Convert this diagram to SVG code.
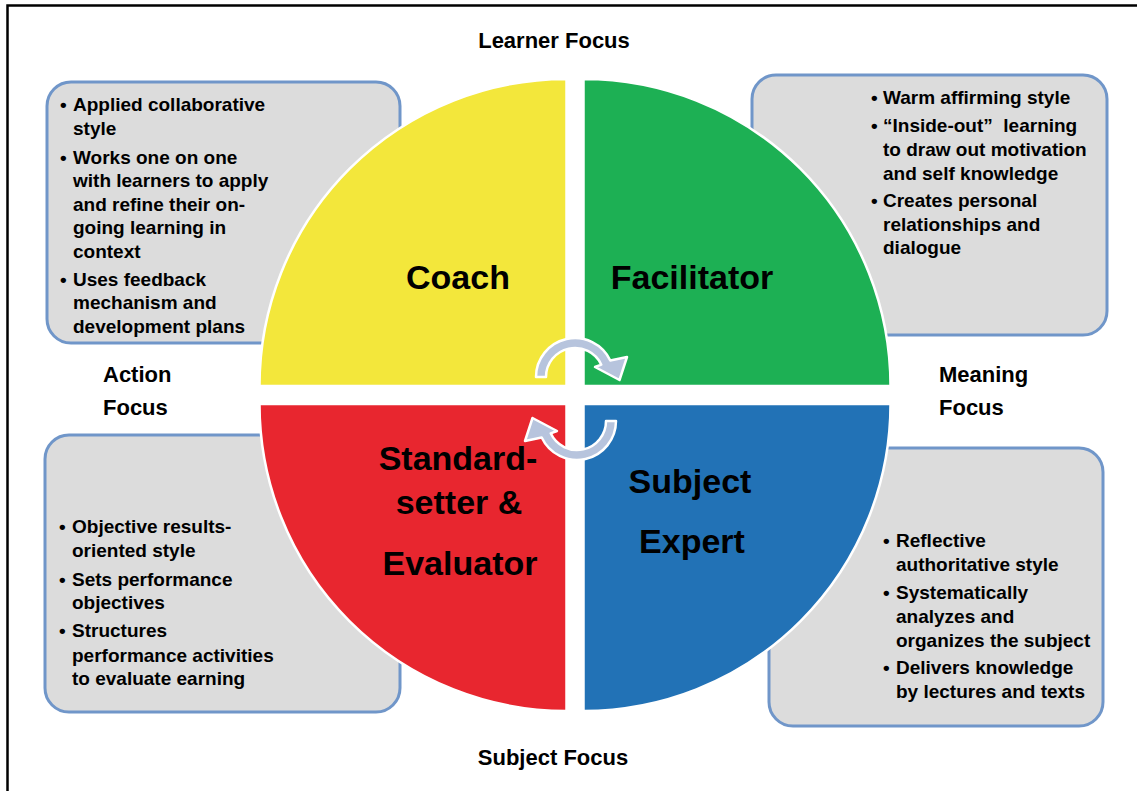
<svg xmlns="http://www.w3.org/2000/svg" width="1137" height="791" viewBox="0 0 1137 791">
<style>
.box{fill:#dcdcdc;stroke:#7096c9;stroke-width:3}
.q{stroke:#ffffff;stroke-width:2.5}
.t{font-family:"Liberation Sans",Arial,sans-serif;font-weight:bold;font-size:19px;fill:#000}
.h{font-family:"Liberation Sans",Arial,sans-serif;font-weight:bold;font-size:22px;fill:#000}
.big{font-family:"Liberation Sans",Arial,sans-serif;font-weight:bold;font-size:34px;fill:#000;text-anchor:middle}
.arr{fill:#b7c4dd;stroke:#ffffff;stroke-width:2.5;stroke-linejoin:round}
</style>
<rect x="0" y="0" width="1137" height="791" fill="#ffffff"/>
<rect x="7.5" y="5.5" width="1140" height="800" fill="none" stroke="#000" stroke-width="2.5"/>

<g id="box-coach">
<rect class="box" x="47" y="82" width="353" height="261" rx="24"/>
<text class="t"><tspan x="60" y="111">•</tspan><tspan x="73" y="111">Applied collaborative</tspan><tspan x="73" y="135">style</tspan>
<tspan x="60" y="164">•</tspan><tspan x="73" y="164">Works one on one</tspan><tspan x="73" y="187">with learners to apply</tspan><tspan x="73" y="211">and refine their on-</tspan><tspan x="73" y="234">going learning in</tspan><tspan x="73" y="258">context</tspan>
<tspan x="60" y="286">•</tspan><tspan x="73" y="286">Uses feedback</tspan><tspan x="73" y="309">mechanism and</tspan><tspan x="73" y="333">development plans</tspan></text>
</g>

<g id="box-facilitator">
<rect class="box" x="752" y="75" width="355" height="260" rx="24"/>
<text class="t"><tspan x="871" y="104">•</tspan><tspan x="883" y="104">Warm affirming style</tspan>
<tspan x="871" y="132">•</tspan><tspan x="883" y="132">“Inside-out”&#160; learning</tspan><tspan x="883" y="156">to draw out motivation</tspan><tspan x="883" y="180">and self knowledge</tspan>
<tspan x="871" y="207">•</tspan><tspan x="883" y="207">Creates personal</tspan><tspan x="883" y="231">relationships and</tspan><tspan x="883" y="254">dialogue</tspan></text>
</g>

<g id="box-evaluator">
<rect class="box" x="45" y="435" width="355" height="277" rx="24"/>
<text class="t"><tspan x="59" y="533">•</tspan><tspan x="72" y="533">Objective results-</tspan><tspan x="72" y="557">oriented style</tspan>
<tspan x="59" y="586">•</tspan><tspan x="72" y="586">Sets performance</tspan><tspan x="72" y="609">objectives</tspan>
<tspan x="59" y="637">•</tspan><tspan x="72" y="637">Structures</tspan><tspan x="72" y="662">performance activities</tspan><tspan x="72" y="685">to evaluate earning</tspan></text>
</g>

<g id="box-expert">
<rect class="box" x="769" y="448" width="334" height="278" rx="24"/>
<text class="t"><tspan x="883" y="547">•</tspan><tspan x="896" y="547">Reflective</tspan><tspan x="896" y="571">authoritative style</tspan>
<tspan x="883" y="599">•</tspan><tspan x="896" y="599">Systematically</tspan><tspan x="896" y="623">analyzes and</tspan><tspan x="896" y="647">organizes the subject</tspan>
<tspan x="883" y="674">•</tspan><tspan x="896" y="674">Delivers knowledge</tspan><tspan x="896" y="698">by lectures and texts</tspan></text>
</g>

<g id="coach">
<path class="q" fill="#f3e73b" d="M566.5,386 L259.5,386 A307,307 0 0 1 566.5,79 Z"/>
<text class="big" x="458" y="289">Coach</text>
</g>
<g id="facilitator">
<path class="q" fill="#1db054" d="M583.5,386 L583.5,79 A307,307 0 0 1 890.5,386 Z"/>
<text class="big" x="692" y="289">Facilitator</text>
</g>
<g id="evaluator">
<path class="q" fill="#e8262f" d="M566.5,404 L566.5,711 A307,307 0 0 1 259.5,404 Z"/>
<text class="big"><tspan x="458" y="470">Standard-</tspan><tspan x="459" y="514">setter &amp;</tspan><tspan x="460" y="575">Evaluator</tspan></text>
</g>
<g id="expert">
<path class="q" fill="#2272b6" d="M583.5,404 L890.5,404 A307,307 0 0 1 583.5,711 Z"/>
<text class="big"><tspan x="690" y="493">Subject</tspan><tspan x="692" y="553">Expert</tspan></text>
</g>

<g id="connectors">
<path id="arrow-top" class="arr" d="M536,377 A39,39 0 0 1 610.3,360.5 L627,357 L619.5,380 L595,367 L601.3,364.7 A29,29 0 0 0 546,377 Z"/>
<path id="arrow-bottom" class="arr" transform="rotate(180 576 399)" d="M536,377 A39,39 0 0 1 610.3,360.5 L627,357 L619.5,380 L595,367 L601.3,364.7 A29,29 0 0 0 546,377 Z"/>
</g>

<g id="labels">
<text class="h" x="554" y="48" text-anchor="middle">Learner Focus</text>
<text class="h" x="553" y="765" text-anchor="middle">Subject Focus</text>
<text class="h"><tspan x="103" y="382">Action</tspan><tspan x="103" y="415">Focus</tspan></text>
<text class="h"><tspan x="939" y="382">Meaning</tspan><tspan x="939" y="415">Focus</tspan></text>
</g>
</svg>
